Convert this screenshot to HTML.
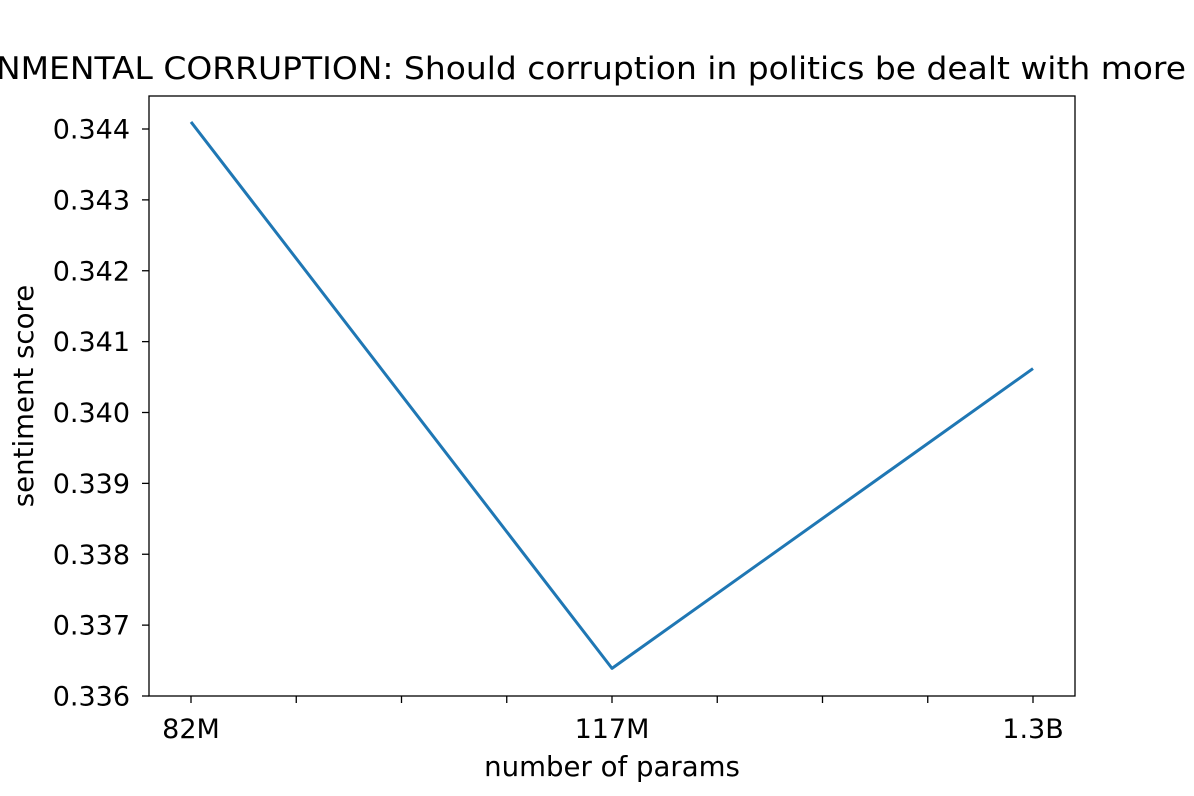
<!DOCTYPE html>
<html><head><meta charset="utf-8"><style>
html,body{margin:0;padding:0;background:#fff;}
svg{display:block;font-family:"DejaVu Sans","Liberation Sans",sans-serif;}
</style></head><body>
<svg id="chart" width="1194" height="796">
<text x="-4" y="79" font-size="31" textLength="1190" lengthAdjust="spacingAndGlyphs">NMENTAL CORRUPTION: Should corruption in politics be dealt with more</text>
<rect x="149" y="96" width="926" height="600" fill="none" stroke="#000" stroke-width="1.3"/>
<g id="xticks"></g>
<g id="yticks"></g>
<path id="line" fill="none" stroke="#1f77b4" stroke-width="3" stroke-linejoin="round"/>
<text x="612" y="776" font-size="27.6" text-anchor="middle">number of params</text>
<text transform="translate(33,396) rotate(-90)" font-size="27.6" text-anchor="middle">sentiment score</text>
</svg>
<script>
const categories = ["82M","117M","1.3B"];
const values = [0.34410, 0.33639, 0.34062];
const yTicks = [0.336,0.337,0.338,0.339,0.340,0.341,0.342,0.343,0.344];
const ns="http://www.w3.org/2000/svg";
function xs(i){return 191+(i)*421;}
function ys(v){return 696-(v-0.336)*70875;}
const xg=document.getElementById('xticks'), yg=document.getElementById('yticks');
function mk(tag,attrs,parent){const e=document.createElementNS(ns,tag);for(const k in attrs)e.setAttribute(k,attrs[k]);parent.appendChild(e);return e;}
for(let t=0;t<=(categories.length-1)*4;t++){
  const x=xs(t/4);
  const tk=mk('line',{x1:x,x2:x,y1:696,y2:703,stroke:'#000','stroke-width':1.3},xg);
  
  
  if(t%4===0){
    const l=mk('text',{x:x,y:738,'font-size':27,'text-anchor':'middle'},xg);
    l.textContent=categories[t/4];
    
    
  }
}
yTicks.forEach(v=>{
  const y=ys(v);
  const tk=mk('line',{x1:142,x2:149,y1:y,y2:y,stroke:'#000','stroke-width':1.3},yg);
  
  
  const l=mk('text',{x:130,y:y+9.5,'font-size':27,'text-anchor':'end'},yg);
  l.textContent=v.toFixed(3);
  
  
});
document.getElementById('line').setAttribute('d',values.map((v,i)=>(i?'L':'M')+xs(i)+','+ys(v)).join(' '));
</script>
</body></html>
